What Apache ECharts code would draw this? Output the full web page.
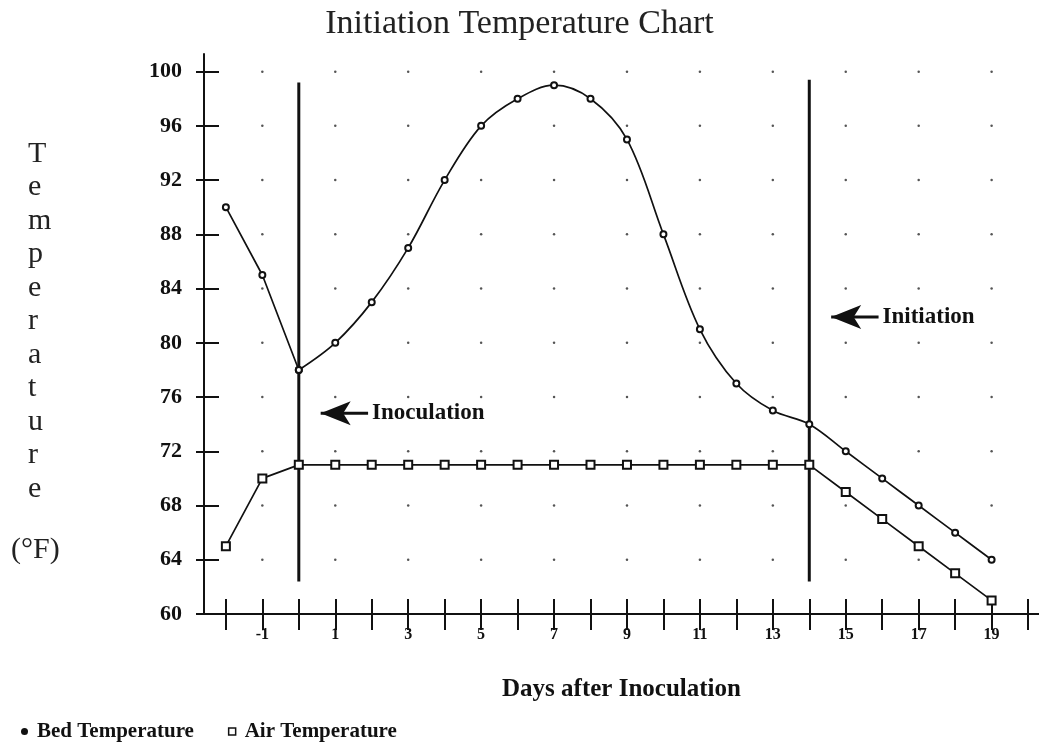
<!DOCTYPE html>
<html>
<head>
<meta charset="utf-8">
<title>Initiation Temperature Chart</title>
<script src="https://cdn.jsdelivr.net/npm/echarts@6/dist/echarts.min.js"></script>
<style>
  html, body { margin: 0; padding: 0; background: #fff; }
  #chart { width: 1039px; height: 742px; }
</style>
</head>
<body>
<div id="chart"></div>
<script>
// Days relative to inoculation
const days = [-2, -1, 0, 1, 2, 3, 4, 5, 6, 7, 8, 9, 10, 11, 12, 13, 14, 15, 16, 17, 18, 19];
// Compost bed temperature (°F)
const bedTemp = [90, 85, 78, 80, 83, 87, 92, 96, 98, 99, 98, 95, 88, 81, 77, 75, 74, 72, 70, 68, 66, 64];
// Air temperature (°F)
const airTemp = [65, 70, 71, 71, 71, 71, 71, 71, 71, 71, 71, 71, 71, 71, 71, 71, 71, 69, 67, 65, 63, 61];

// Axis ticks and labels
const xTickValues = [-2, -1, 0, 1, 2, 3, 4, 5, 6, 7, 8, 9, 10, 11, 12, 13, 14, 15, 16, 17, 18, 19, 20];
const xLabelValues = [-1, 1, 3, 5, 7, 9, 11, 13, 15, 17, 19];
const yTickValues = [60, 64, 68, 72, 76, 80, 84, 88, 92, 96, 100];
const yDotValues = [64, 68, 72, 76, 80, 84, 88, 92, 96, 100];

// Event markers: vertical bars with labelled arrows
const eventNames = ['Inoculation', 'Initiation'];
const eventDays = [0, 14];
const eventTop = [99.2, 99.4];
const eventBottom = [62.4, 62.4];
const arrowTemp = [74.8, 81.9];

const SERIF = '"Liberation Serif", "DejaVu Serif", serif';
const INK = '#111';

// dotted background grid at odd days
const gridDots = [];
xLabelValues.forEach(d => yDotValues.forEach(t => gridDots.push([d, t])));

const pairs = (xs, ys) => xs.map((x, i) => [x, ys[i]]);
const bedPairs = pairs(days, bedTemp);
const zeroIdx = days.indexOf(0);

const series = [
  {
    name: 'grid-dots', type: 'scatter', data: gridDots, symbol: 'circle', symbolSize: 2.5,
    itemStyle: { color: '#555', opacity: 1 }, silent: true, z: 1
  },
  {
    // pre-inoculation segment, straight
    name: 'Bed Temperature', type: 'line', data: bedPairs.slice(0, zeroIdx + 1),
    symbol: 'emptyCircle', symbolSize: 6, showSymbol: true,
    lineStyle: { color: INK, width: 1.7 }, itemStyle: { color: INK, borderWidth: 1.2 }, z: 5
  },
  {
    name: 'Bed Temperature', type: 'line', data: bedPairs.slice(zeroIdx), smooth: 0.35,
    symbol: 'emptyCircle', symbolSize: 6,
    lineStyle: { color: INK, width: 1.7 }, itemStyle: { color: INK, borderWidth: 1.2 }, z: 5
  },
  {
    name: 'Air Temperature', type: 'line', data: pairs(days, airTemp),
    symbol: 'emptyRect', symbolSize: 8,
    lineStyle: { color: INK, width: 1.7 }, itemStyle: { color: INK, borderWidth: 1.5 }, z: 5
  }
];

eventNames.forEach((name, i) => {
  const d = eventDays[i];
  const y = arrowTemp[i];
  // vertical bar
  series.push({
    name: name + ' bar', type: 'line', data: [[d, eventTop[i]], [d, eventBottom[i]]],
    symbol: 'none', lineStyle: { color: INK, width: 3 }, silent: true, z: 4
  });
  // arrow shaft, with the label at its tail
  series.push({
    name: name + ' shaft', type: 'line', data: [[d + 1.9, y], [d + 0.6, y]],
    symbol: 'none', lineStyle: { color: INK, width: 3 }, silent: true, z: 6
  });
  series.push({
    name: name + ' label', type: 'scatter', data: [[d + 1.9, y]], symbolSize: 0, silent: true, z: 6,
    itemStyle: { opacity: 1 },
    label: {
      show: true, position: 'right', distance: 4, formatter: name, opacity: 1,
      fontFamily: SERIF, fontWeight: 'bold', fontSize: 23, color: INK
    }
  });
  // arrow head pointing at the bar
  series.push({
    name: name + ' head', type: 'scatter', data: [[d + 0.6, y]], symbol: 'arrow',
    symbolRotate: 90, symbolSize: [18, 30], itemStyle: { color: INK, opacity: 1 }, silent: true, z: 6
  });
});

const chart = echarts.init(document.getElementById('chart'), null, { renderer: 'canvas' });
chart.setOption({
  backgroundColor: '#fff',
  animation: false,
  title: {
    text: 'Initiation Temperature Chart', left: 'center', top: 2,
    textStyle: { fontFamily: SERIF, fontWeight: 'normal', fontSize: 34, color: '#222' }
  },
  legend: {
    left: 16, top: 716, itemGap: 34, itemWidth: 7, itemHeight: 7,
    textStyle: { fontFamily: SERIF, fontWeight: 'bold', fontSize: 21, color: INK, padding: [0, 0, 0, 4] },
    data: [
      { name: 'Bed Temperature', icon: 'circle', itemStyle: { color: INK } },
      { name: 'Air Temperature', icon: 'rect', itemStyle: { color: '#fff', borderColor: INK, borderWidth: 1.5 } }
    ]
  },
  grid: { left: 204, right: 0, top: 54, bottom: 128, containLabel: false },
  xAxis: [
    {
      type: 'value', min: -2.6, max: 20.3, position: 'bottom',
      name: 'Days after Inoculation', nameLocation: 'middle', nameGap: 63,
      nameTextStyle: { fontFamily: SERIF, fontWeight: 'bold', fontSize: 25, color: INK },
      axisLine: { show: true, onZero: false, lineStyle: { color: INK, width: 2 } },
      axisTick: { show: true, inside: false, length: 16, customValues: xTickValues, lineStyle: { color: INK, width: 2 } },
      axisLabel: { show: true, customValues: xLabelValues, margin: 13, fontFamily: SERIF, fontWeight: 'bold', fontSize: 16, color: INK },
      splitLine: { show: false }
    },
    {
      type: 'value', min: -2.6, max: 20.3, position: 'bottom', offset: 0,
      axisLine: { show: false, onZero: false },
      axisTick: { show: true, inside: true, length: 15, customValues: xTickValues, lineStyle: { color: INK, width: 2 } },
      axisLabel: { show: false },
      splitLine: { show: false }
    }
  ],
  yAxis: [
    {
      type: 'value', min: 60, max: 101.3, position: 'left',
      axisLine: { show: true, onZero: false, lineStyle: { color: INK, width: 2 } },
      axisTick: { show: true, inside: true, length: 15, customValues: yTickValues, lineStyle: { color: INK, width: 2 } },
      axisLabel: { show: true, customValues: yTickValues, margin: 22, fontFamily: SERIF, fontWeight: 'bold', fontSize: 22, color: INK },
      splitLine: { show: false }
    },
    {
      type: 'value', min: 60, max: 101.3, position: 'left', offset: 0,
      axisLine: { show: false, onZero: false },
      axisTick: { show: true, inside: false, length: 8, customValues: yTickValues, lineStyle: { color: INK, width: 2 } },
      axisLabel: { show: false },
      splitLine: { show: false }
    }
  ],
  graphic: [
    {
      type: 'text', left: 28, top: 137,
      style: {
        text: 'Temperature'.split('').join('\n'),
        fontFamily: SERIF, fontSize: 30, lineHeight: 33.5, fill: '#222', align: 'center', width: 28
      }
    },
    {
      type: 'text', left: 11, top: 535,
      style: { text: '(°F)', fontFamily: SERIF, fontSize: 30, fill: '#222' }
    }
  ],
  series: series
});
</script>
</body>
</html>
